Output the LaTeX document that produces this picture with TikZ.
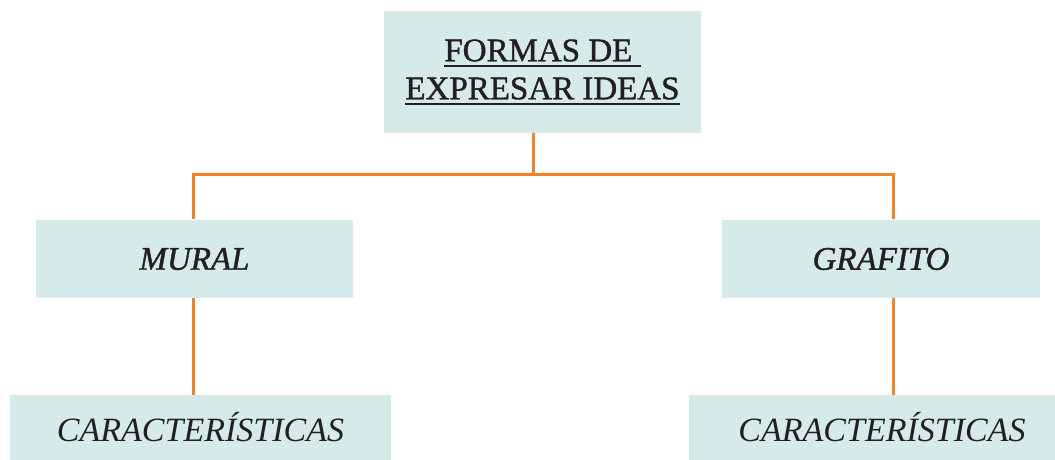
\documentclass[tikz,border=0pt]{standalone}
\usepackage{fontspec}
\setmainfont{Liberation Serif}
\newfontfamily\heavyserif[FakeBold=1.2]{Liberation Serif}
\usetikzlibrary{positioning}

\definecolor{boxfill}{RGB}{214,234,234}
\definecolor{linkorange}{RGB}{241,130,44}
\definecolor{inkdark}{RGB}{35,31,32}

\newcommand\ulword[1]{\leavevmode\vtop{\hbox{#1}\kern3pt\hrule height 2pt}}

\begin{document}
\begin{tikzpicture}[x=1pt,y=-1pt,
  box/.style={fill=boxfill,text=inkdark,inner sep=0pt,align=center,
    font=\fontsize{34}{40}\selectfont},
  link/.style={draw=linkorange,line width=3pt}]
\useasboundingbox (0,0) rectangle (1055,460);

% boxes
\node [box,minimum width=317pt,minimum height=122pt,
  font=\heavyserif\fontsize{33}{40}\selectfont] (top) at (542.5,72)
  {\ulword{FORMAS DE\ }\\[-2pt]\ulword{EXPRESAR IDEAS}};
\node [box,minimum width=317pt,minimum height=78pt,
  font=\heavyserif\fontsize{33}{40}\selectfont\itshape] (mural) at (194.5,259) {MURAL};
\node [box,minimum width=318pt,minimum height=78pt,
  font=\heavyserif\fontsize{33}{40}\selectfont\itshape] (grafito) at (881,259) {GRAFITO};
\node [box,minimum width=381pt,minimum height=65pt] (carL) at (200.5,427.5) {\itshape CARACTERÍSTICAS};
\node [box,minimum width=366pt,minimum height=65pt] (carR) at (872,427.5) {\hspace{20pt}\itshape CARACTERÍSTICAS};

% connectors
\draw [link] (top.south) ++(-9.5,0) coordinate (t1) -- (t1 |- 0,174) coordinate (bar);
\draw [link] (mural.north) ++(-1.5,-1) coordinate (m1) |- (bar);
\draw [link] (grafito.north) ++(12,-1) coordinate (g1) |- (bar);
\draw [link] (mural.south) ++(-1.5,0) coordinate (m2) -- (m2 |- carL.north);
\draw [link] (grafito.south) ++(12,0) coordinate (g2) -- (g2 |- carR.north);

\end{tikzpicture}
\end{document}
